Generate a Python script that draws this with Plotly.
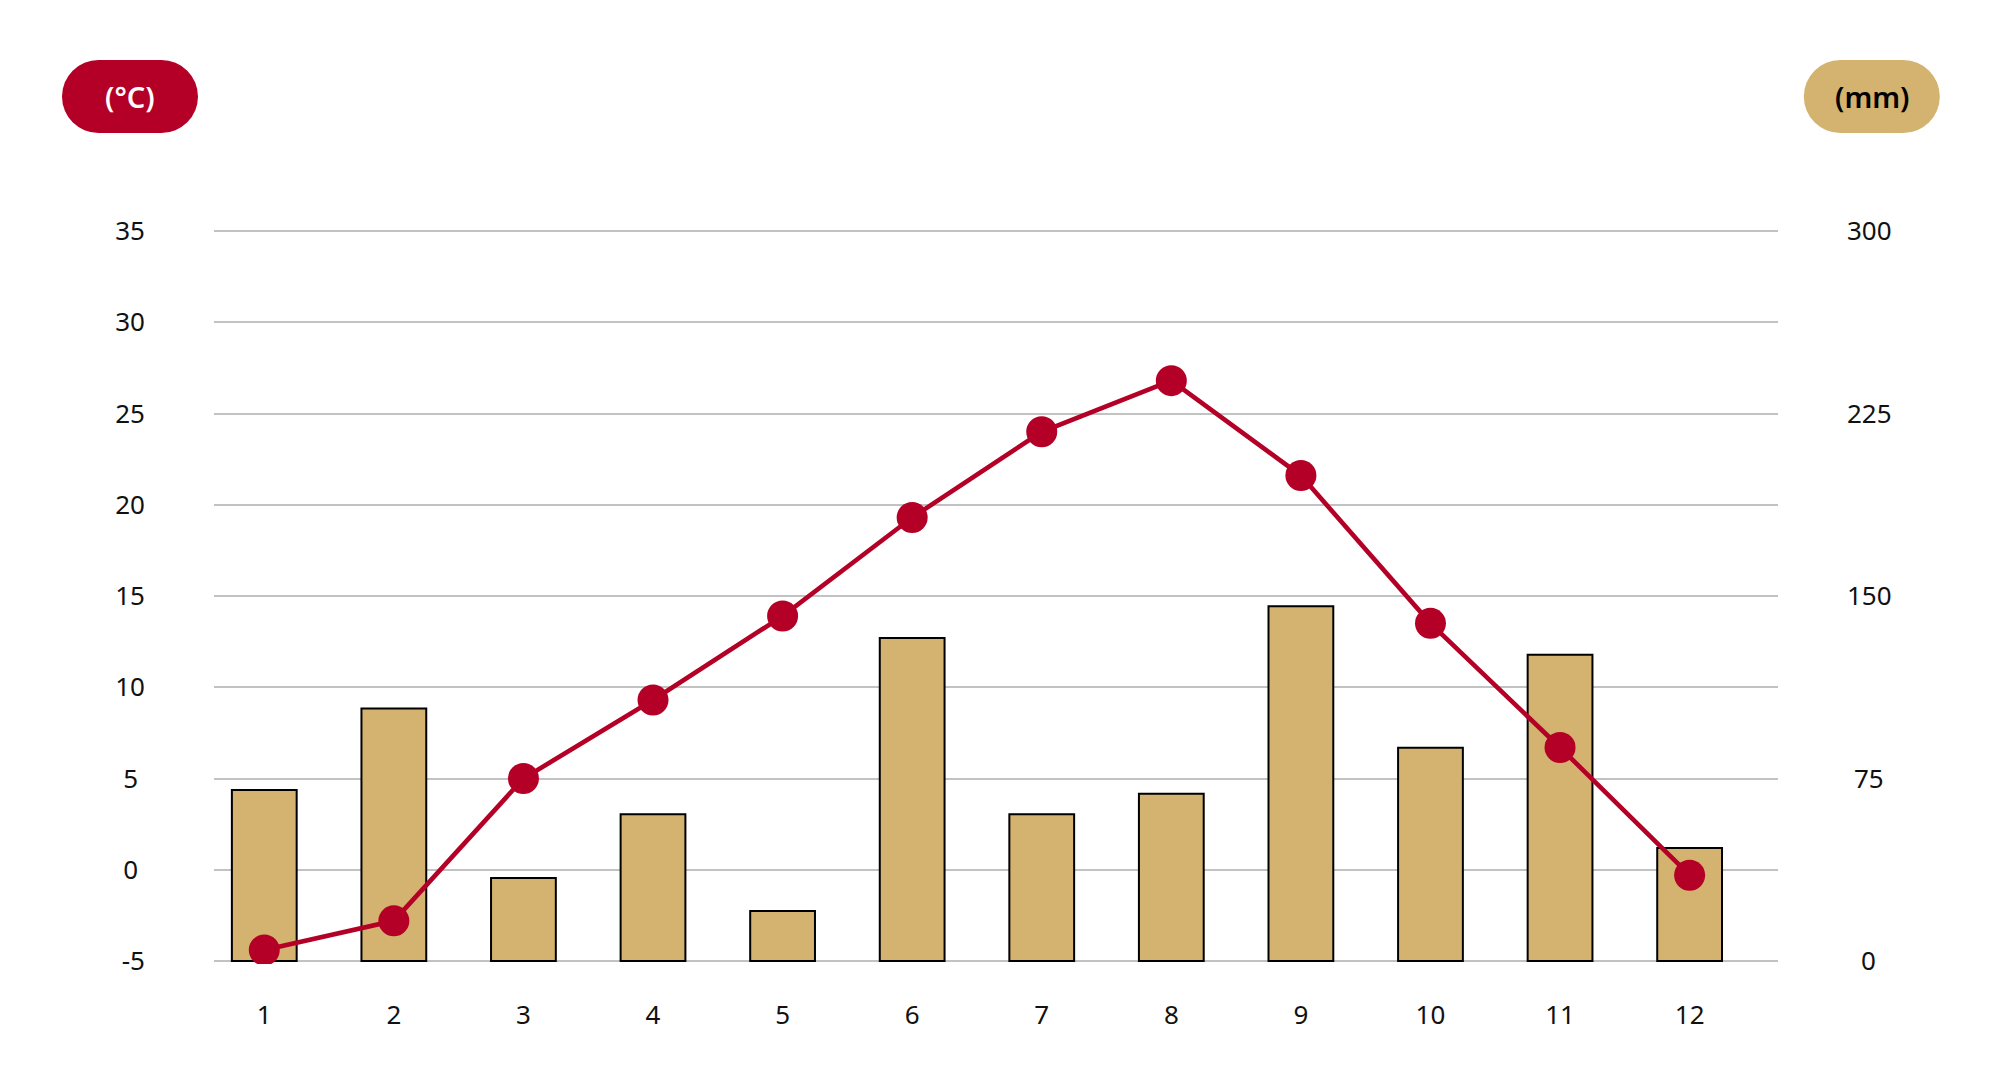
import plotly.graph_objects as go

months = [1, 2, 3, 4, 5, 6, 7, 8, 9, 10, 11, 12]
temps = [-4.4, -2.8, 5.0, 9.3, 13.9, 19.3, 24.0, 26.8, 21.6, 13.5, 6.7, -0.3]
precip = [70.3, 103.8, 34.1, 60.3, 20.5, 132.7, 60.3, 68.7, 145.8, 87.6, 125.9, 46.4]

temp_ticks = [-5, 0, 5, 10, 15, 20, 25, 30, 35]
temp_ticktext = ["-5", "0\u2008", "5\u2008", "10", "15", "20", "25", "30", "35"]
precip_ticks = [0, 75, 150, 225, 300]
precip_ticktext = ["\u2008\u20080", "\u200875", "150", "225", "300"]

RED = "#B40026"
GOLD = "#D4B26F"
FONT = "Noto Sans"

OFF = 8  # browser body margin
W, H = 2000 - 2 * OFF, 1092 - 2 * OFF
# target pixel positions (in the final page) of the -5 and 35 grid lines
L, R, T, B = 214, 1777.7, 231, 960.7
EXT = 3  # extra pixels so edge grid lines are not clipped
Tp, Bp = T - EXT, B + EXT
per_px = 40 / (B - T)
EPS = EXT * per_px

fig = go.Figure()
fig.add_trace(go.Bar(
    x=months, y=precip, yaxis="y", width=0.5,
    marker=dict(color=GOLD, line=dict(color="#000000", width=2)),
    hoverinfo="skip",
))
fig.add_trace(go.Scatter(
    x=months, y=temps, yaxis="y2", mode="lines+markers",
    line=dict(color=RED, width=4.6),
    marker=dict(color=RED, size=31),
    hoverinfo="skip",
))

def px_to_paper_x(px):
    return (px - L) / (R - L)

def px_to_paper_y(py):
    return (Bp - py) / (Bp - Tp)

shapes = []
annotations = []
for cx, cy, fill, text, tcolor in [(130, 96.5, RED, "(°C)", "#FFFFFF"),
                                   (1871.5, 96.5, GOLD, "(mm)", "#000000")]:
    xa, ya = px_to_paper_x(cx), px_to_paper_y(cy)
    common = dict(xref="paper", yref="paper", xsizemode="pixel", ysizemode="pixel",
                  xanchor=xa, yanchor=ya, fillcolor=fill, line=dict(width=0), layer="above")
    shapes.append(dict(type="rect", x0=-31.5, x1=31.5, y0=-36.5, y1=36.5, **common))
    shapes.append(dict(type="circle", x0=-68, x1=5, y0=-36.5, y1=36.5, **common))
    shapes.append(dict(type="circle", x0=-5, x1=68, y0=-36.5, y1=36.5, **common))
    annotations.append(dict(xref="paper", yref="paper", x=xa, y=ya, text=text,
                            showarrow=False, xanchor="center", yanchor="middle",
                            font=dict(family=FONT, size=29, color=tcolor, weight=600)))

fig.update_layout(
    width=W, height=H,
    margin=dict(l=L - OFF, r=2000 - R - OFF, t=Tp - OFF, b=1092 - Bp - OFF, pad=0),
    paper_bgcolor="#FFFFFF", plot_bgcolor="#FFFFFF",
    showlegend=False,
    font=dict(family=FONT, size=26, color="#111111"),
    xaxis=dict(range=[0.612, 12.682], tickvals=months, ticktext=[str(m) for m in months],
               showgrid=False, zeroline=False, showline=False, ticks="",
               ticklabelstandoff=33, fixedrange=True),
    yaxis=dict(range=[0 - EPS * 7.5, 300 + EPS * 7.5], side="right", tickvals=precip_ticks,
               ticktext=precip_ticktext,
               showgrid=False, zeroline=False, showline=False, ticks="",
               ticklabelstandoff=68),
    yaxis2=dict(range=[-5 - EPS, 35 + EPS], side="left", overlaying="y", tickvals=temp_ticks,
                ticktext=temp_ticktext, showgrid=True, gridcolor="#C2C2C2", gridwidth=2,
                zeroline=False, showline=False, ticks="", ticklabelstandoff=68),
    shapes=shapes,
    annotations=annotations,
)

fig.write_html("out.html")
